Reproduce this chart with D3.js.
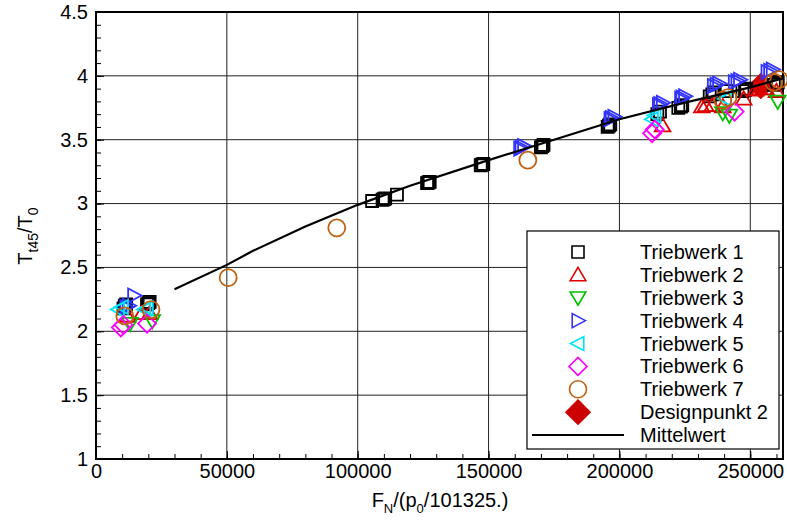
<html>
<script src='https://d3js.org/d3.v7.min.js'></script>
<style>
    body { margin: 0; background: white; }
    text { font-family: 'Liberation Sans', Arial, sans-serif; fill: black; }
</style>

<body onload='init()'>
    <svg width=787 height=524></svg>
    <script>
        // data
        let t1_x = [10500, 11000, 11500, 19500, 20000, 20500, 105500, 109500, 110000, 110500, 115000, 126500, 127000, 127500, 147000, 147500, 148000, 170000, 170500, 171000, 195500, 196000, 196500, 214500, 215500, 222500, 223500, 224000, 234500, 235500, 236000, 241000, 247000, 248000, 248500, 259000, 260000, 260500];
        let t1_y = [2.18, 2.20, 2.21, 2.21, 2.22, 2.23, 3.02, 3.03, 3.035, 3.04, 3.07, 3.16, 3.165, 3.17, 3.30, 3.305, 3.31, 3.44, 3.45, 3.46, 3.60, 3.61, 3.62, 3.70, 3.72, 3.75, 3.76, 3.77, 3.84, 3.855, 3.87, 3.88, 3.88, 3.89, 3.90, 3.93, 3.94, 3.95];
        let t2_x = [12000, 17500, 20500, 216500, 231500, 233000, 235500, 239500, 247500, 252000, 253500, 256000, 260000];
        let t2_y = [2.12, 2.14, 2.14, 3.61, 3.76, 3.77, 3.77, 3.76, 3.82, 3.89, 3.90, 3.90, 3.88];
        let t3_x = [13000, 21500, 239500, 242000, 260500];
        let t3_y = [2.06, 2.08, 3.71, 3.69, 3.80];
        let t4_x = [11500, 12500, 14500, 162000, 162500, 163500, 196500, 197000, 198000, 215000, 215500, 216500, 223500, 224000, 225000, 236000, 237000, 238000, 244000, 245000, 246000, 256500, 257500, 258500];
        let t4_y = [2.19, 2.20, 2.28, 3.43, 3.44, 3.45, 3.66, 3.67, 3.68, 3.77, 3.78, 3.79, 3.82, 3.83, 3.84, 3.92, 3.93, 3.94, 3.95, 3.96, 3.97, 4.03, 4.04, 4.05];
        let t5_x = [8500, 10000, 18500, 19500, 212500, 213500, 240500];
        let t5_y = [2.17, 2.19, 2.17, 2.18, 3.66, 3.69, 3.82];
        let t6_x = [9500, 10500, 19500, 212500, 213500, 244000];
        let t6_y = [2.03, 2.05, 2.06, 3.55, 3.58, 3.72];
        let t7_x = [11000, 21000, 50500, 92000, 165000, 239500, 241500, 259000, 261000];
        let t7_y = [2.12, 2.17, 2.42, 2.81, 3.34, 3.81, 3.83, 3.95, 3.97];
        let design_x = [254000];
        let design_y = [3.92];
        let mean_x = [30000, 50000, 60000, 80000, 100000, 120000, 150000, 175000, 200000, 225000, 250000, 262500];
        let mean_y = [2.33, 2.52, 2.63, 2.82, 2.99, 3.14, 3.34, 3.50, 3.66, 3.79, 3.91, 3.98];

        let x_ticks = [0, 50000, 100000, 150000, 200000, 250000];
        let y_ticks = [1, 1.5, 2, 2.5, 3, 3.5, 4, 4.5];
        let legend_labels = ['Triebwerk 1', 'Triebwerk 2', 'Triebwerk 3', 'Triebwerk 4', 'Triebwerk 5', 'Triebwerk 6', 'Triebwerk 7', 'Designpunkt 2', 'Mittelwert'];

        // marker shapes (path strings around 0,0)
        let shapes = {
            square: 'M-6,-6H6V6H-6Z',
            up: 'M0,-7.5L7.8,5.8L-7.8,5.8Z',
            down: 'M0,7.5L7.8,-5.8L-7.8,-5.8Z',
            right: 'M7.5,0L-5.8,7L-5.8,-7Z',
            left: 'M-7.5,0L5.8,7L5.8,-7Z',
            diamond: 'M0,-9L9,0L0,9L-9,0Z',
            circle: 'M8.5,0A8.5,8.5 0 1,1 -8.5,0A8.5,8.5 0 1,1 8.5,0Z',
            bigdiamond: 'M0,-12L12,0L0,12L-12,0Z'
        };

        let series = [
            { xs: t1_x, ys: t1_y, shape: 'square', color: '#000000', fill: 'none' },
            { xs: t2_x, ys: t2_y, shape: 'up', color: '#e00000', fill: 'none' },
            { xs: t3_x, ys: t3_y, shape: 'down', color: '#00c000', fill: 'none' },
            { xs: t4_x, ys: t4_y, shape: 'right', color: '#3333ff', fill: 'none' },
            { xs: t5_x, ys: t5_y, shape: 'left', color: '#00e5ff', fill: 'none' },
            { xs: t6_x, ys: t6_y, shape: 'diamond', color: '#ff00ff', fill: 'none' },
            { xs: t7_x, ys: t7_y, shape: 'circle', color: '#c06010', fill: 'none' },
            { xs: design_x, ys: design_y, shape: 'bigdiamond', color: '#cc0000', fill: '#cc0000' }
        ];

        function init() {
            let svg = d3.select('svg');
            let left = 96, right = 783, top = 12, bottom = 459;

            let x = d3.scaleLinear().domain([0, 262500]).range([left, right]);
            let y = d3.scaleLinear().domain([1, 4.5]).range([bottom, top]);

            // grid
            svg.append('g').selectAll('line').data(x_ticks.slice(1)).enter().append('line')
                .attr('x1', d => x(d)).attr('x2', d => x(d)).attr('y1', top).attr('y2', bottom)
                .attr('stroke', '#222').attr('stroke-width', 1);
            svg.append('g').selectAll('line').data(y_ticks.slice(1)).enter().append('line')
                .attr('x1', left).attr('x2', right).attr('y1', d => y(d)).attr('y2', d => y(d))
                .attr('stroke', '#222').attr('stroke-width', 1);

            // minor ticks
            let x_minor = d3.range(0, 262500, 10000);
            let y_minor = d3.range(1, 4.5001, 0.1);
            svg.append('g').attr('transform', `translate(0,${bottom})`)
                .call(d3.axisBottom(x).tickValues(x_minor).tickSizeInner(-5).tickSizeOuter(0).tickFormat(''))
                .call(g => g.select('.domain').remove());
            svg.append('g').attr('transform', `translate(${left},0)`)
                .call(d3.axisLeft(y).tickValues(y_minor).tickSizeInner(-5).tickSizeOuter(0).tickFormat(''))
                .call(g => g.select('.domain').remove());

            // major axes
            let x_axis = d3.axisBottom(x).tickValues(x_ticks).tickSizeInner(-8).tickSizeOuter(0).tickPadding(5).tickFormat(d => String(d));
            let y_axis = d3.axisLeft(y).tickValues(y_ticks).tickSizeInner(-8).tickSizeOuter(0).tickPadding(8).tickFormat(d => String(d));
            svg.append('g').attr('transform', `translate(0,${bottom})`).call(x_axis)
                .call(g => g.select('.domain').remove())
                .selectAll('text').style('font-size', '20px').style('font-family', "'Liberation Sans', Arial, sans-serif");
            svg.append('g').attr('transform', `translate(${left},0)`).call(y_axis)
                .call(g => g.select('.domain').remove())
                .selectAll('text').style('font-size', '20px').style('font-family', "'Liberation Sans', Arial, sans-serif");

            // frame
            svg.append('rect').attr('x', left).attr('y', top).attr('width', right - left).attr('height', bottom - top)
                .attr('fill', 'none').attr('stroke', 'black').attr('stroke-width', 2);

            // markers (design point underneath the engine markers)
            let draw_order = [series[7]].concat(series.slice(0, 7));
            draw_order.forEach(s => {
                svg.append('g').selectAll('path').data(s.xs.map((v, i) => [v, s.ys[i]])).enter().append('path')
                    .attr('d', shapes[s.shape])
                    .attr('transform', d => `translate(${x(d[0])},${y(d[1])})`)
                    .attr('fill', s.fill).attr('stroke', s.color).attr('stroke-width', 1.8);
            });

            // mean line
            let line = d3.line().x(d => x(d[0])).y(d => y(d[1]));
            svg.append('path').datum(mean_x.map((v, i) => [v, mean_y[i]]))
                .attr('d', line).attr('fill', 'none').attr('stroke', 'black').attr('stroke-width', 2.2);

            // legend
            let lg = svg.append('g');
            lg.append('rect').attr('x', 527).attr('y', 231).attr('width', 252).attr('height', 218)
                .attr('fill', 'white').attr('stroke', 'black').attr('stroke-width', 1.2);
            let row_y = d3.scaleLinear().domain([0, 8]).range([252, 435]);
            legend_labels.forEach((lab, i) => {
                let cy = row_y(i);
                if (i < series.length) {
                    let s = series[i];
                    lg.append('path').attr('d', shapes[s.shape]).attr('transform', `translate(578,${cy})`)
                        .attr('fill', s.fill).attr('stroke', s.color).attr('stroke-width', 1.6);
                } else {
                    lg.append('line').attr('x1', 532).attr('x2', 624).attr('y1', cy).attr('y2', cy)
                        .attr('stroke', 'black').attr('stroke-width', 2.2);
                }
                lg.append('text').attr('x', 640).attr('y', cy + 7).style('font-size', '20px').text(lab);
            });

            // axis titles
            let xt = svg.append('text').attr('x', 440).attr('y', 507).attr('text-anchor', 'middle').style('font-size', '20px');
            xt.append('tspan').text('F');
            xt.append('tspan').attr('dy', 6).style('font-size', '13px').text('N');
            xt.append('tspan').attr('dy', -6).text('/(p');
            xt.append('tspan').attr('dy', 6).style('font-size', '13px').text('0');
            xt.append('tspan').attr('dy', -6).text('/101325.)');

            let yt = svg.append('text').attr('transform', 'translate(32,236) rotate(-90)').attr('text-anchor', 'middle').style('font-size', '20px');
            yt.append('tspan').text('T');
            yt.append('tspan').attr('dy', 6).style('font-size', '14px').text('t45');
            yt.append('tspan').attr('dy', -6).text('/T');
            yt.append('tspan').attr('dy', 6).style('font-size', '14px').text('0');
        }
    </script>
</body>

</html>
